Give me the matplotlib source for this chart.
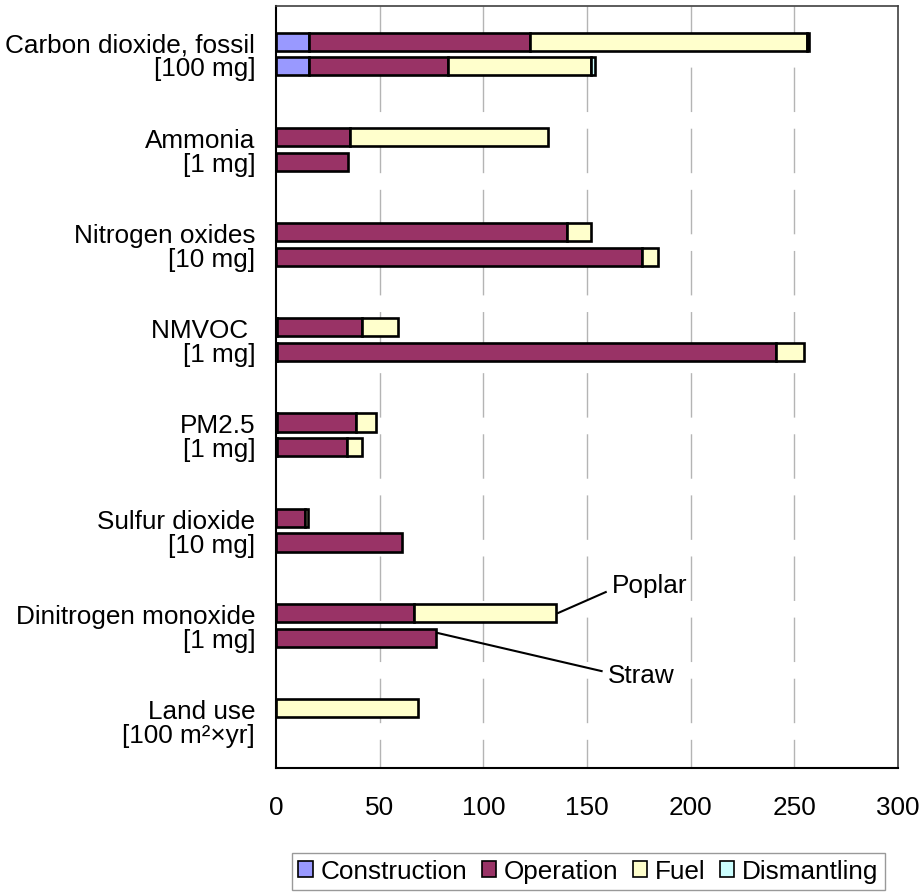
import matplotlib
matplotlib.use("Agg")
import matplotlib.pyplot as plt
from matplotlib.patches import Patch

plt.rcParams['font.family'] = ['Liberation Sans', 'DejaVu Sans']

# ---------------------------------------------------------------
# DATA
# ---------------------------------------------------------------
categories = [
    "Carbon dioxide, fossil\n[100 mg]",
    "Ammonia\n[1 mg]",
    "Nitrogen oxides\n[10 mg]",
    "NMVOC \n[1 mg]",
    "PM2.5\n[1 mg]",
    "Sulfur dioxide\n[10 mg]",
    "Dinitrogen monoxide\n[1 mg]",
    "Land use\n[100 m\u00b2\u00d7yr]",
]
phases = ["Construction", "Operation", "Fuel", "Dismantling"]
colors = ["#9999FF", "#993366", "#FFFFCC", "#CCFFFF"]

# Poplar (upper bar of each pair)
poplar_construction = [15.7, 0, 0, 0.6, 0.6, 0, 0, 0]
poplar_operation = [107.0, 35.5, 140.3, 40.7, 37.8, 14.1, 66.4, 0]
poplar_fuel = [133.5, 95.6, 11.6, 17.4, 9.6, 1.3, 68.6, 68.4]
poplar_dismantling = [0.8, 0, 0, 0, 0, 0, 0, 0]

# Straw (lower bar of each pair)
straw_construction = [15.7, 0, 0, 0.6, 0.6, 0, 0, 0]
straw_operation = [67.3, 34.5, 176.5, 240.6, 33.8, 60.8, 77.0, 0]
straw_fuel = [69.0, 0, 7.7, 13.5, 6.9, 0, 0, 0]
straw_dismantling = [2.0, 0, 0, 0, 0, 0, 0, 0]

xticks = [0, 50, 100, 150, 200, 250, 300]

# ---------------------------------------------------------------
# PLOT
# ---------------------------------------------------------------
fig = plt.figure(figsize=(9.21, 8.95), dpi=100)
ax = fig.add_axes([0.2997, 0.1405, 0.6755, 0.8513])

fs = 18.8
bar_h = 0.19
offset = 0.13
series = {
    "Poplar": ([poplar_construction, poplar_operation, poplar_fuel, poplar_dismantling], -offset),
    "Straw": ([straw_construction, straw_operation, straw_fuel, straw_dismantling], offset),
}

# dashed vertical grid, drawn top to bottom like the original
for xv in xticks[1:-1]:
    ax.plot([xv, xv], [-0.5, 7.5], color="#b4b4b4", lw=1.0,
            dashes=(32, 12), zorder=0.5)

totals = {}
for name, (parts, off) in series.items():
    left = [0.0] * len(categories)
    for vals, col in zip(parts, colors):
        for i, v in enumerate(vals):
            if v > 0:
                ax.barh(i + off, v, height=bar_h, left=left[i], color=col,
                        edgecolor="black", linewidth=1.9, zorder=2)
            left[i] += v
    totals[name] = left

ax.set_xlim(0, 300)
ax.set_ylim(7.5, -0.5)
ax.set_xticks(xticks)
ax.set_xticklabels([str(x) for x in xticks], fontsize=fs)
ax.set_yticks(range(len(categories)))
ax.set_yticklabels(categories, fontsize=fs, linespacing=1.0)
ax.tick_params(axis="both", length=0)
ax.tick_params(axis="y", pad=15)
ax.tick_params(axis="x", pad=19)

for side in ["left", "bottom"]:
    ax.spines[side].set_color("black")
    ax.spines[side].set_linewidth(1.5)
for side in ["top", "right"]:
    ax.spines[side].set_color("#404040")
    ax.spines[side].set_linewidth(1.2)

# Poplar / Straw callouts on the Dinitrogen monoxide pair
k = 6
px0 = totals["Poplar"][k] + 1
ax.plot([px0, px0 + 23], [k - offset, k - offset - 0.22], color="black", lw=1.5, zorder=3)
ax.text(px0 + 26, k - offset - 0.29, "Poplar", fontsize=fs, va="center", ha="left")
sx0 = totals["Straw"][k] + 1
ax.plot([sx0, sx0 + 79], [k + offset - 0.05, k + offset + 0.35], color="black", lw=1.5, zorder=3)
ax.text(sx0 + 82, k + offset + 0.39, "Straw", fontsize=fs, va="center", ha="left")

handles = [Patch(facecolor=c, edgecolor="black", linewidth=1.2, label=p)
           for p, c in zip(phases, colors)]
leg = fig.legend(handles=handles, loc="center", bbox_to_anchor=(0.639, 0.0255),
                 ncol=4, fontsize=fs, frameon=True, fancybox=False,
                 edgecolor="#808080", handlelength=0.55, handleheight=0.55,
                 handletextpad=0.3, columnspacing=0.55, borderpad=0.25,
                 borderaxespad=0)
leg.get_frame().set_linewidth(1.0)

plt.savefig("out.png", dpi=100)
